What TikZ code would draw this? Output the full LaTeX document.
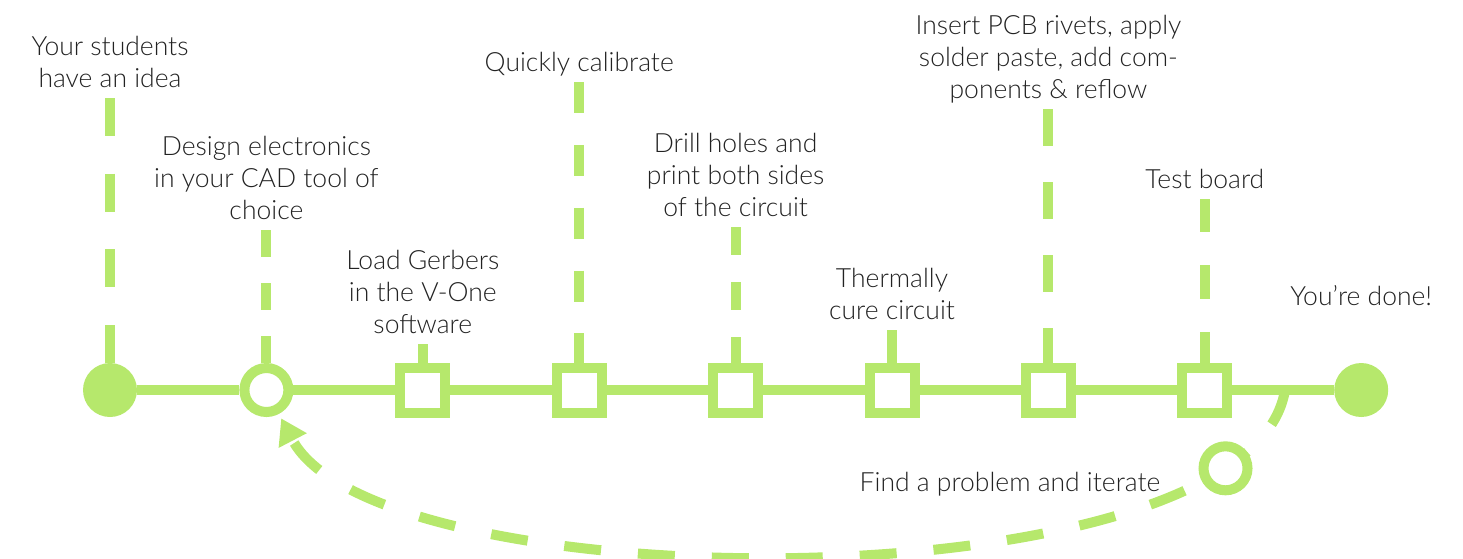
\documentclass[tikz,border=0pt]{standalone}
\usepackage{fontspec}
\setmainfont{Lato Light}
\usetikzlibrary{arrows.meta,positioning}
\definecolor{lime}{HTML}{B6E86C}
\definecolor{ink}{HTML}{222222}
\tikzset{
  track/.style={draw=lime,line width=10pt},
  endpoint/.style={circle,fill=lime,minimum size=54pt,inner sep=0pt},
  ring/.style={circle,solid,draw=lime,fill=white,line width=10pt,minimum size=44pt,inner sep=0pt},
  stepbox/.style={rectangle,draw=lime,fill=white,line width=10pt,minimum size=45pt,inner sep=0pt},
  caption/.style={text=ink,align=center,font=\fontsize{26.5}{32}\selectfont,inner sep=0pt,text depth=0pt,anchor=south},
  stemline/.style={draw=lime,line width=10pt,dash pattern=on #1 off #1,shorten <=10pt},
  loopback/.style={draw=lime,line width=10pt,dash pattern=on 37pt off 37pt}
}

\begin{document}
\begin{tikzpicture}[x=1pt,y=-1pt]
  \useasboundingbox (0,0) rectangle (1463,558);
  % stations along the line
  \foreach \i/\kind in {1/endpoint,2/ring,3/stepbox,4/stepbox,5/stepbox,6/stepbox,7/stepbox,8/stepbox,9/endpoint}
    \node[\kind] (s\i) at ({110+156.4*(\i-1)},390) {};
  \foreach \i [count=\j from 2] in {1,...,8}
    \draw[track] (s\i) -- (s\j);

  % captions, baseline of the last line given
  \node[caption] (t1) at (s1 |- 0,88) {Your students\\have an idea};
  \node[caption] (t2) at (s2 |- 0,220) {Design electronics\\in your CAD tool of\\choice};
  \node[caption] (t3) at (s3 |- 0,334) {Load Gerbers\\in the V-One\\software};
  \node[caption] (t4) at (s4 |- 0,72) {Quickly calibrate};
  \node[caption] (t5) at (s5 |- 0,217) {Drill holes and\\print both sides\\of the circuit};
  \node[caption] (t6) at (s6 |- 0,320) {Thermally\\cure circuit};
  \node[caption] (t7) at (s7 |- 0,99) {Insert PCB rivets, apply\\solder paste, add com-\\ponents \& reflow};
  \node[caption] (t8) at (s8 |- 0,189) {Test board};
  \node[caption] (t9) at (s9 |- 0,306) {You’re done!};

  % stems: dash length = length / (2n-1)
  \draw[stemline=37.86pt] (t1.south) -- (s1);
  \draw[stemline=26.6pt] (t2.south) -- (s2);
  \draw[stemline=21pt] (t3.south) -- (s3);
  \draw[stemline=31.43pt] (t4.south) -- (s4);
  \draw[stemline=27.6pt] (t5.south) -- (s5);
  \draw[stemline=35pt] (t6.south) -- (s6);
  \draw[stemline=36.57pt] (t7.south) -- (s7);
  \draw[stemline=33.2pt] (t8.south) -- (s8);

  % way back to the design step
  \coordinate (split) at (1285,390);
  \draw[loopback,-{Triangle[length=25pt,width=30pt]},shorten >=5pt]
    (split) .. controls (1250,607) and (378,604) .. (s2)
    node[ring,pos=0.14] (fix) {};
  \node[caption,anchor=base] (t10) at (1010,491) {Find a problem and iterate};
\end{tikzpicture}
\end{document}
